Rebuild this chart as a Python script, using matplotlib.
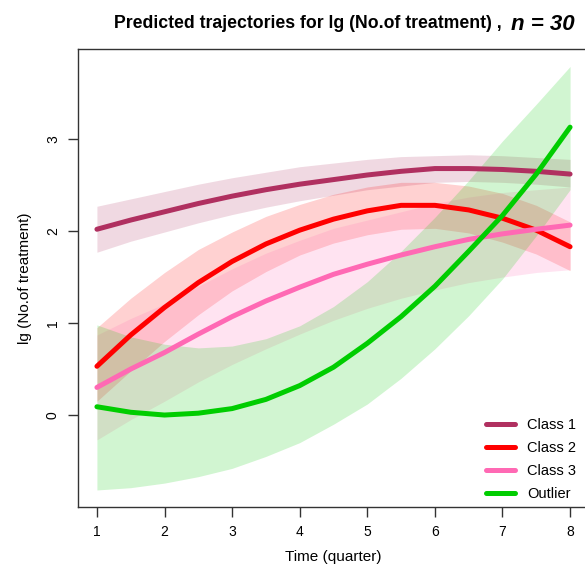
import matplotlib
matplotlib.use("Agg")
import matplotlib.pyplot as plt
import numpy as np

plt.rcParams['font.family'] = ['Liberation Sans', 'DejaVu Sans']

# time points (quarters), read at half steps
time = [1, 1.5, 2, 2.5, 3, 3.5, 4, 4.5, 5, 5.5, 6, 6.5, 7, 7.5, 8]

# Class 1
c1_fit = [2.02, 2.12, 2.21, 2.30, 2.38, 2.45, 2.51, 2.56, 2.61, 2.65, 2.68, 2.68, 2.67, 2.65, 2.62]
c1_up = [2.27, 2.35, 2.43, 2.51, 2.58, 2.64, 2.70, 2.74, 2.78, 2.81, 2.82, 2.83, 2.82, 2.80, 2.78]
c1_lo = [1.77, 1.89, 1.99, 2.09, 2.18, 2.26, 2.33, 2.39, 2.45, 2.49, 2.53, 2.54, 2.53, 2.51, 2.48]

# Class 2
c2_fit = [0.53, 0.87, 1.17, 1.44, 1.67, 1.86, 2.01, 2.13, 2.22, 2.28, 2.28, 2.23, 2.14, 2.01, 1.83]
c2_up = [0.95, 1.27, 1.55, 1.80, 1.99, 2.16, 2.29, 2.40, 2.48, 2.53, 2.53, 2.49, 2.41, 2.28, 2.10]
c2_lo = [0.15, 0.48, 0.80, 1.09, 1.35, 1.56, 1.74, 1.87, 1.96, 2.02, 2.03, 1.98, 1.88, 1.75, 1.57]

# Class 3
c3_fit = [0.30, 0.50, 0.68, 0.88, 1.07, 1.24, 1.39, 1.53, 1.64, 1.74, 1.83, 1.91, 1.97, 2.02, 2.065]
c3_up = [0.87, 1.05, 1.21, 1.40, 1.59, 1.76, 1.90, 2.03, 2.12, 2.21, 2.30, 2.37, 2.42, 2.45, 2.48]
c3_lo = [-0.27, -0.05, 0.15, 0.36, 0.55, 0.72, 0.88, 1.03, 1.16, 1.27, 1.36, 1.44, 1.50, 1.55, 1.58]

# Outlier
out_fit = [0.09, 0.03, 0.0, 0.02, 0.07, 0.17, 0.32, 0.52, 0.78, 1.07, 1.40, 1.78, 2.17, 2.62, 3.13]
out_up = [0.98, 0.85, 0.77, 0.73, 0.75, 0.83, 0.97, 1.18, 1.45, 1.78, 2.15, 2.55, 2.98, 3.38, 3.79]
out_lo = [-0.815, -0.79, -0.74, -0.67, -0.58, -0.45, -0.30, -0.10, 0.12, 0.40, 0.72, 1.08, 1.48, 1.95, 2.45]

labels = ['Class 1', 'Class 2', 'Class 3', 'Outlier']
colors = ['#B03060', '#FF0000', '#FF69B4', '#00CD00']

fig = plt.figure(figsize=(5.85, 5.67), dpi=100)
ax = fig.add_axes([78/585, 1 - 507/567, 511/585, 458/567])

series = [(c1_fit, c1_lo, c1_up), (c2_fit, c2_lo, c2_up),
          (c3_fit, c3_lo, c3_up), (out_fit, out_lo, out_up)]
for (fit, lo, up), col, lab in zip(series, colors, labels):
    ax.fill_between(time, lo, up, color=col, alpha=0.18, linewidth=0)
    ax.plot(time, fit, color=col, lw=3.6, label=lab, solid_capstyle='round')

ax.set_xlim(0.72, 8.28)
ax.set_ylim(-1.0, 3.98)
ax.set_xticks(range(1, 9))
ax.set_yticks([0, 1, 2, 3])
ax.tick_params(direction='out', length=7, width=1, labelsize=10, color='#333333', pad=6)
for t in ax.get_yticklabels():
    t.set_rotation(90)
    t.set_va('center')
for s in ax.spines.values():
    s.set_color('#333333')
    s.set_linewidth(1)

ax.set_xlabel('Time (quarter)', fontsize=11, labelpad=8)
ax.set_ylabel('lg (No.of treatment)', fontsize=11, labelpad=10)

ax.legend(loc='lower right', frameon=False, fontsize=10.5, handlelength=2.0,
          handletextpad=0.8, labelspacing=0.6, bbox_to_anchor=(1.0, -0.015))

fig.text(502/585, 1 - 24/567, 'Predicted trajectories for lg (No.of treatment) ,',
         ha='right', va='center', fontsize=12.7, fontweight='bold')
fig.text(511/585, 1 - 24/567, 'n = 30', ha='left', va='center', fontsize=16,
         fontweight='bold', fontstyle='italic')

fig.savefig('out.png', dpi=100)
